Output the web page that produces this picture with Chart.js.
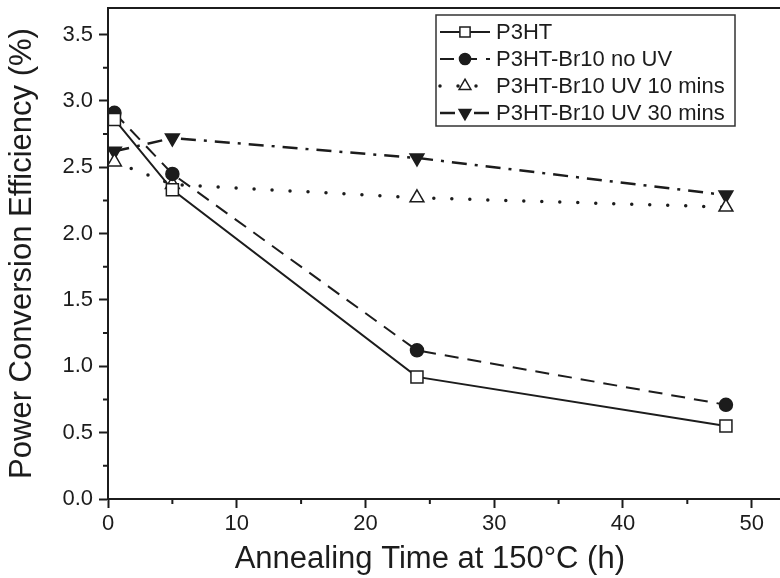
<!DOCTYPE html>
<html>
<head>
<meta charset="utf-8">
<title>PCE vs annealing time</title>
<script src="https://cdn.jsdelivr.net/npm/chart.js@4.4.1/dist/chart.umd.min.js"></script>
<style>
  html, body { margin: 0; padding: 0; background: #fff; overflow: hidden; }
  #wrap { width: 780px; height: 578px; position: relative; }
</style>
</head>
<body>
<div id="wrap"><canvas id="pce"></canvas></div>
<script>
  // --- data ---
  const times = [0.5, 5, 24, 48];
  const p3ht  = [2.86, 2.33, 0.92, 0.55];
  const noUV  = [2.91, 2.45, 1.12, 0.71];
  const uv10  = [2.54, 2.37, 2.27, 2.20];
  const uv30  = [2.62, 2.72, 2.57, 2.29];
  const seriesNames = ['P3HT', 'P3HT-Br10 no UV', 'P3HT-Br10 UV 10 mins', 'P3HT-Br10 UV 30 mins'];
  const xTicks = [0, 10, 20, 30, 40, 50];
  const yTicks = [0, 0.5, 1.0, 1.5, 2.0, 2.5, 3.0, 3.5];
  const xTitle = 'Annealing Time at 150°C (h)';
  const yTitle = 'Power Conversion Efficiency (%)';

  const INK = '#1c1c1c';
  const FONT = "'Liberation Sans', Arial, Helvetica, sans-serif";

  function pts(vals) {
    return times.map((t, i) => ({ x: t, y: vals[i] }));
  }

  function series(idx, vals, style) {
    return Object.assign({
      label: seriesNames[idx],
      data: pts(vals),
      borderColor: INK,
      borderWidth: 2,
      tension: 0,
      pointBorderColor: INK,
      pointBorderWidth: 1.5,
      pointHoverRadius: 0,
    }, style);
  }

  const datasets = [
    series(0, p3ht, { borderDash: [], pointStyle: 'rect', pointRadius: 8.5, pointBackgroundColor: '#fff' }),
    series(1, noUV, { borderDash: [14, 9], pointStyle: 'circle', pointRadius: 6.5, pointBackgroundColor: INK }),
    series(2, uv10, { borderDash: [0, 18], borderWidth: 3.5, borderCapStyle: 'round',
                      pointStyle: 'triangle', pointRadius: 8, pointBackgroundColor: '#fff' }),
    series(3, uv30, { borderDash: [15, 8, 3, 8], borderWidth: 2.5, pointStyle: 'triangle',
                      pointRotation: 180, pointRadius: 8, pointBackgroundColor: INK }),
  ];

  // frame top line, minor ticks, x title and the boxed legend
  const extras = {
    id: 'extras',
    afterDraw(chart) {
      const ctx = chart.ctx;
      const { left, right, top, bottom } = chart.chartArea;
      const sx = chart.scales.x, sy = chart.scales.y;
      ctx.save();
      ctx.strokeStyle = INK;
      ctx.lineWidth = 2;
      ctx.beginPath();
      ctx.moveTo(left - 1, top);
      ctx.lineTo(right, top);
      ctx.stroke();

      // minor ticks half way between major ones
      ctx.beginPath();
      for (let i = 0; i < xTicks.length; i++) {
        const v = xTicks[i] + (xTicks[1] - xTicks[0]) / 2;
        if (v > sx.max) continue;
        const px = sx.getPixelForValue(v);
        ctx.moveTo(px, bottom);
        ctx.lineTo(px, bottom + 5);
      }
      for (let i = 0; i < yTicks.length; i++) {
        const v = yTicks[i] + (yTicks[1] - yTicks[0]) / 2;
        if (v > sy.max) continue;
        const py = sy.getPixelForValue(v);
        ctx.moveTo(left, py);
        ctx.lineTo(left - 5, py);
      }
      ctx.stroke();

      // x axis title, centred on the 0..50 span
      ctx.fillStyle = INK;
      ctx.font = '31px ' + FONT;
      ctx.textAlign = 'center';
      ctx.textBaseline = 'middle';
      ctx.fillText(xTitle, sx.getPixelForValue(25), 559);

      // legend
      const bx = 436, by = 15, bw = 299, bh = 111, row = 27;
      ctx.lineWidth = 1.5;
      ctx.strokeStyle = '#333';
      ctx.strokeRect(bx, by, bw, bh);
      ctx.font = '22px ' + FONT;
      ctx.textAlign = 'left';
      chart.data.datasets.forEach((ds, i) => {
        const cy = by + 17 + i * row;
        ctx.save();
        ctx.strokeStyle = INK;
        ctx.lineWidth = ds.borderWidth;
        ctx.lineCap = ds.borderCapStyle || 'butt';
        ctx.setLineDash(ds.borderDash || []);
        ctx.beginPath();
        ctx.moveTo(bx + 4, cy);
        ctx.lineTo(bx + 54, cy);
        ctx.stroke();
        ctx.setLineDash([]);
        ctx.fillStyle = ds.pointBackgroundColor;
        ctx.strokeStyle = INK;
        ctx.lineWidth = ds.pointBorderWidth;
        Chart.helpers.drawPoint(ctx, {
          pointStyle: ds.pointStyle,
          radius: ds.pointRadius * 0.85,
          rotation: ds.pointRotation || 0,
          borderWidth: ds.pointBorderWidth,
        }, bx + 29, cy);
        ctx.restore();
        ctx.fillStyle = INK;
        ctx.fillText(ds.label, bx + 60, cy + 1);
      });
      ctx.restore();
    }
  };

  const axisGrid = {
    drawOnChartArea: false,
    drawTicks: true,
    tickLength: 9,
    tickWidth: 2,
    tickColor: INK,
  };

  new Chart(document.getElementById('pce'), {
    type: 'line',
    data: { datasets },
    options: {
      responsive: true,
      maintainAspectRatio: false,
      animation: false,
      events: [],
      layout: { autoPadding: false, padding: { top: 8, right: 0, bottom: 0, left: 0 } },
      plugins: { legend: { display: false }, tooltip: { enabled: false } },
      scales: {
        x: {
          type: 'linear',
          min: 0,
          max: 52.2,
          afterBuildTicks: s => { s.ticks = xTicks.map(v => ({ value: v })); },
          afterFit: s => { s.height = 79; s.paddingLeft = 0; s.paddingRight = 0; },
          ticks: { color: INK, font: { family: FONT, size: 22 }, padding: 3,
                   maxRotation: 0, autoSkip: false, callback: v => String(v) },
          grid: axisGrid,
          border: { display: true, width: 2, color: INK },
        },
        y: {
          min: 0,
          max: 3.7,
          afterBuildTicks: s => { s.ticks = yTicks.map(v => ({ value: v })); },
          afterFit: s => { s.width = 108; s.paddingTop = 0; s.paddingBottom = 0; },
          ticks: { color: INK, font: { family: FONT, size: 22 }, padding: 6,
                   autoSkip: false, callback: v => Number(v).toFixed(1) },
          grid: axisGrid,
          border: { display: true, width: 2, color: INK },
          title: { display: true, text: yTitle, color: INK,
                   font: { family: FONT, size: 31 }, padding: { top: 4, bottom: 0 } },
        },
      },
    },
    plugins: [extras],
  });
</script>
</body>
</html>
